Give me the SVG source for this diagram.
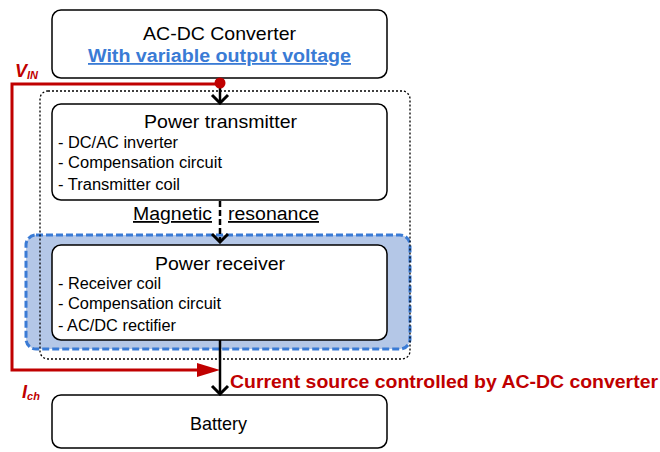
<svg xmlns="http://www.w3.org/2000/svg" width="660" height="452" viewBox="0 0 660 452">
<defs>
<style>
text{font-family:"Liberation Sans",Arial,sans-serif;}
.box{fill:#fff;stroke:#000;stroke-width:1.5;}
.title{font-size:19px;text-anchor:middle;fill:#000;}
.item{font-size:16px;fill:#000;}
.red{fill:#C00000;font-weight:bold;}
.conn{stroke:#000;stroke-width:2.5;fill:none;}
</style>
<marker id="chev" viewBox="0 0 12 20" refX="10" refY="10" markerWidth="12" markerHeight="20" markerUnits="userSpaceOnUse" orient="auto">
<path d="M2,2 L10,10 L2,18" fill="none" stroke="#000" stroke-width="3"/>
</marker>
</defs>
<rect width="660" height="452" fill="#fff"/>
<g id="highlight">
<rect x="26" y="235" width="384" height="114" rx="10" fill="#B4C7E7" stroke="#3A7BD5" stroke-width="3" stroke-dasharray="7,3"/>
</g>
<g id="wpt-group">
<rect x="40" y="91" width="370" height="268" rx="8" fill="none" stroke="#000" stroke-width="1.3" stroke-dasharray="2,2"/>
</g>
<g id="acdc">
<rect class="box" x="52" y="10" width="335" height="68" rx="9"/>
<text class="title" x="219.5" y="40" textLength="153" lengthAdjust="spacingAndGlyphs">AC-DC Converter</text>
<text x="219.5" y="62" font-size="18" font-weight="bold" fill="#3A7BD5" text-anchor="middle" text-decoration="underline" textLength="263" lengthAdjust="spacingAndGlyphs">With variable output voltage</text>
</g>
<g id="transmitter">
<rect class="box" x="52" y="104" width="335" height="96" rx="9"/>
<text class="title" x="220.5" y="128" textLength="153" lengthAdjust="spacingAndGlyphs">Power transmitter</text>
<text class="item" x="58" y="148" textLength="120" lengthAdjust="spacingAndGlyphs">- DC/AC inverter</text>
<text class="item" x="58" y="168" textLength="164" lengthAdjust="spacingAndGlyphs">- Compensation circuit</text>
<text class="item" x="58" y="190" textLength="122" lengthAdjust="spacingAndGlyphs">- Transmitter coil</text>
</g>
<g id="receiver">
<rect class="box" x="52" y="245" width="335" height="95" rx="9"/>
<text class="title" x="220" y="270" textLength="130" lengthAdjust="spacingAndGlyphs">Power receiver</text>
<text class="item" x="58" y="289" textLength="103" lengthAdjust="spacingAndGlyphs">- Receiver coil</text>
<text class="item" x="58" y="309" textLength="163" lengthAdjust="spacingAndGlyphs">- Compensation circuit</text>
<text class="item" x="58" y="331" textLength="118" lengthAdjust="spacingAndGlyphs">- AC/DC rectifier</text>
</g>
<g id="battery">
<rect class="box" x="52" y="395" width="335" height="53" rx="9"/>
<text class="title" x="218.5" y="430" textLength="57" lengthAdjust="spacingAndGlyphs">Battery</text>
</g>
<g id="connectors">
<path d="M220,84 H12 V370 H200" fill="none" stroke="#C00000" stroke-width="3"/>
<polygon points="197,363 220,370 197,377" fill="#C00000"/>
<line class="conn" x1="220" y1="86" x2="220" y2="103" marker-end="url(#chev)"/>
<line class="conn" x1="220" y1="201" x2="220" y2="242" stroke-dasharray="6,3" marker-end="url(#chev)"/>
<line class="conn" x1="220" y1="340" x2="220" y2="394" marker-end="url(#chev)"/>
<circle cx="220" cy="83" r="5.5" fill="#C00000"/>
</g>
<g id="labels">
<text x="133" y="220" font-size="18" text-decoration="underline" textLength="79" lengthAdjust="spacingAndGlyphs">Magnetic</text>
<text x="228" y="220" font-size="18" text-decoration="underline" textLength="91" lengthAdjust="spacingAndGlyphs">resonance</text>
<text class="red" x="15" y="77" font-size="18" font-style="italic">V<tspan font-size="11" dy="2">IN</tspan></text>
<text class="red" x="22" y="398" font-size="18" font-style="italic">I<tspan font-size="11" dy="2">ch</tspan></text>
<text class="red" x="230" y="388" font-size="18" textLength="428" lengthAdjust="spacingAndGlyphs">Current source controlled by AC-DC converter</text>
</g>
</svg>
